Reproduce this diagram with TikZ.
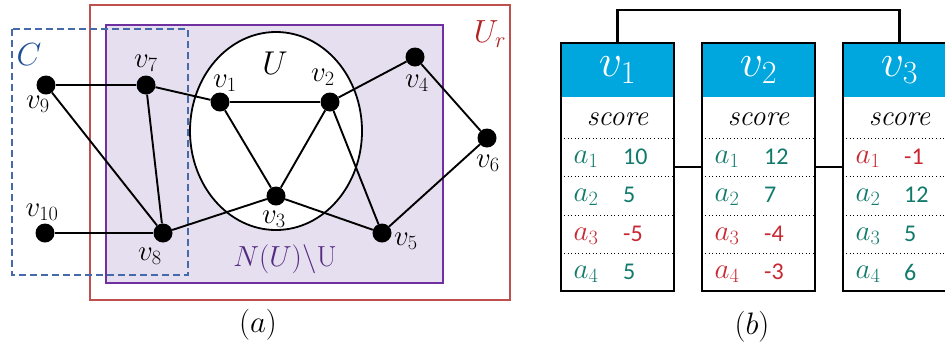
\RequirePackage{fix-cm}
\documentclass[tikz,border=0pt]{standalone}
\usepackage{fontspec}
\newfontfamily\numfont{Carlito}
\definecolor{redR}{RGB}{192,80,77}
\definecolor{purpR}{RGB}{112,48,160}
\definecolor{purpF}{RGB}{229,223,239}
\definecolor{blueD}{RGB}{68,106,170}
\definecolor{blueC}{RGB}{31,78,150}
\definecolor{redU}{RGB}{178,34,34}
\definecolor{purpT}{RGB}{84,43,130}
\definecolor{tealT}{RGB}{16,122,108}
\definecolor{redT}{RGB}{200,40,50}
\definecolor{headB}{RGB}{0,166,222}
\tikzset{
  dot/.style={circle,fill=black,minimum size=19pt,inner sep=0pt},
  vlab/.style={inner sep=0pt,font=\fontsize{29}{31}\selectfont},
  edge/.style={line width=1.9pt,black},
  tabbox/.style={draw=black,line width=1.4pt,minimum width=113pt,minimum height=248pt,inner sep=0pt},
  headbox/.style={fill=headB,minimum width=113pt,minimum height=54pt,inner sep=0pt,text=white,font=\fontsize{46}{48}\selectfont},
  scorelab/.style={inner sep=0pt,font=\fontsize{29}{31}\selectfont\itshape},
  alab/.style={inner sep=0pt,font=\fontsize{29}{31}\selectfont},
  nlab/.style={inner sep=0pt,anchor=west,font=\fontsize{24}{26}\selectfont\numfont},
  dotrow/.style={line width=1pt,dash pattern=on 1pt off 2.6pt},
  conn/.style={line width=2.2pt,black},
  caplab/.style={inner sep=0pt,font=\fontsize{31}{33}\selectfont}
}
\begin{document}
\begin{tikzpicture}[x=1pt,y=-1pt]
\clip (0,0) rectangle (945,349);
\fill[white] (0,0) rectangle (945,349);
% ---------- part (a) ----------
\draw[redR,line width=1.8pt] (90,5) rectangle (510,300);
\draw[purpR,line width=1.8pt,fill=purpF] (106,25) rectangle (443,283);
\draw[blueD,line width=1.8pt,dash pattern=on 7pt off 4pt] (12,29) rectangle (188,275);
\draw[black,line width=1.8pt,fill=white] (276,131) ellipse [x radius=86pt,y radius=99pt];

\node[dot] (v1) at (220,102) {};
\node[dot] (v2) at (330,102) {};
\node[dot] (v3) at (276,196) {};
\node[dot] (v4) at (415,57) {};
\node[dot] (v5) at (382,233) {};
\node[dot] (v6) at (487,138) {};
\node[dot] (v7) at (146,85) {};
\node[dot] (v8) at (163,233) {};
\node[dot] (v9) at (46,85) {};
\node[dot] (v10) at (45,233) {};

\draw[edge] (v9) -- (v7);
\draw[edge] (v9) -- (v8);
\draw[edge] (v7) -- (v1);
\draw[edge] (v7) -- (v8);
\draw[edge] (v1) -- (v2);
\draw[edge] (v1) -- (v3);
\draw[edge] (v2) -- (v3);
\draw[edge] (v2) -- (v4);
\draw[edge] (v2) -- (v5);
\draw[edge] (v4) -- (v6);
\draw[edge] (v6) -- (v5);
\draw[edge] (v3) -- (v5);
\draw[edge] (v3) -- (v8);
\draw[edge] (v10) -- (v8);

\node[vlab] (l1) at (225,83) {$v_1$};
\node[vlab] (l2) at (323,77) {$v_2$};
\node[vlab] (l3) at (274,219) {$v_3$};
\node[vlab] (l4) at (417,83) {$v_4$};
\node[vlab] (l5) at (406,241) {$v_5$};
\node[vlab] (l6) at (488,163) {$v_6$};
\node[vlab] (l7) at (146,63) {$v_7$};
\node[vlab] (l8) at (150,256) {$v_8$};
\node[vlab] (l9) at (38,104) {$v_9$};
\node[vlab] (l10) at (42,212) {$v_{10}$};

\node[inner sep=0pt,font=\fontsize{33}{35}\selectfont] (lU) at (275,63) {$U$};
\node[inner sep=0pt,text=blueC,font=\fontsize{32}{34}\selectfont] (lC) at (29,55) {$C$};
\node[inner sep=0pt,text=redU,font=\fontsize{32}{34}\selectfont] (lUr) at (490,34) {$U_r$};
\node[inner sep=0pt,text=purpT,font=\fontsize{29}{31}\selectfont] (lN) at (285,259) {$N(U)\backslash\mathrm{U}$};
\node[caplab] (capa) at (258,325) {$(a)$};

% ---------- part (b) ----------
\node[headbox] (h1) at (617.5,70) {$v_1$};
\node[headbox] (h2) at (758.5,70) {$v_2$};
\node[headbox] (h3) at (899.5,70) {$v_3$};
\node[tabbox] (t1) at (617.5,167) {};
\node[tabbox] (t2) at (758.5,167) {};
\node[tabbox] (t3) at (899.5,167) {};

\foreach \t in {t1,t2,t3}{
  \foreach \yy in {138,176,215,253}{
    \draw[dotrow] (\t.west |- 0,\yy) -- (\t.east |- 0,\yy);
  }
}

\node[scorelab] (s1) at (617.5,119) {score};
\node[scorelab] (s2) at (758.5,119) {score};
\node[scorelab] (s3) at (899.5,119) {score};

% table 1
\node[alab,text=tealT] (a11) at (586,159) {$a_1$};
\node[nlab,text=tealT] (n11) at (623,157) {10};
\node[alab,text=tealT] (a12) at (586,197) {$a_2$};
\node[nlab,text=tealT] (n12) at (623,195) {5};
\node[alab,text=redT] (a13) at (586,236) {$a_3$};
\node[nlab,text=redT] (n13) at (623,234) {-5};
\node[alab,text=tealT] (a14) at (586,274) {$a_4$};
\node[nlab,text=tealT] (n14) at (623,272) {5};
% table 2
\node[alab,text=tealT] (a21) at (727,159) {$a_1$};
\node[nlab,text=tealT] (n21) at (764,157) {12};
\node[alab,text=tealT] (a22) at (727,197) {$a_2$};
\node[nlab,text=tealT] (n22) at (764,195) {7};
\node[alab,text=redT] (a23) at (727,236) {$a_3$};
\node[nlab,text=redT] (n23) at (764,234) {-4};
\node[alab,text=redT] (a24) at (727,274) {$a_4$};
\node[nlab,text=redT] (n24) at (764,272) {-3};
% table 3
\node[alab,text=redT] (a31) at (868,159) {$a_1$};
\node[nlab,text=redT] (n31) at (904,157) {-1};
\node[alab,text=tealT] (a32) at (868,197) {$a_2$};
\node[nlab,text=tealT] (n32) at (904,195) {12};
\node[alab,text=tealT] (a33) at (868,236) {$a_3$};
\node[nlab,text=tealT] (n33) at (904,234) {5};
\node[alab,text=tealT] (a34) at (868,274) {$a_4$};
\node[nlab,text=tealT] (n34) at (904,272) {6};

\coordinate (topc) at (758.5,10);
\draw[conn] (h1.north) |- (topc) -| (h3.north);
\draw[conn] (t1.east) -- (t2.west);
\draw[conn] (t2.east) -- (t3.west);

\node[caplab] (capb) at (752,327) {$(b)$};
\end{tikzpicture}
\end{document}
